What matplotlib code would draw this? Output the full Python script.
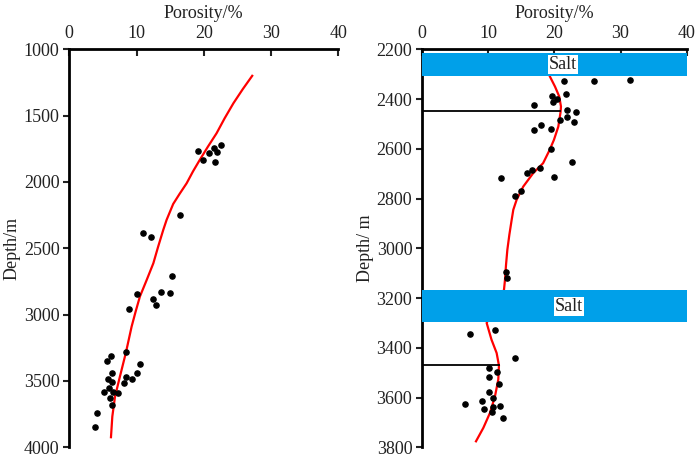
import matplotlib
matplotlib.use("Agg")
import matplotlib.pyplot as plt

plt.rcParams['font.family'] = ['Liberation Serif', 'DejaVu Serif']

# left panel: measured porosity vs depth
left_por = [19.2, 19.9, 20.8, 21.5, 21.9, 22.5, 21.6, 16.5,
            10.9, 12.1, 15.3, 10.0, 12.5, 13.7, 12.9, 15.0, 8.9,
            6.2, 5.6, 8.4, 10.5, 6.3, 5.7, 8.5, 9.4, 10.1, 6.3, 8.2,
            5.9, 5.2, 6.5, 7.2, 6.1, 6.3, 4.1, 3.8]
left_dep = [1766, 1834, 1784, 1741, 1776, 1724, 1847, 2246,
            2382, 2414, 2708, 2841, 2882, 2832, 2927, 2837, 2957,
            3309, 3346, 3284, 3369, 3442, 3482, 3469, 3482, 3437, 3505, 3512,
            3552, 3585, 3585, 3588, 3625, 3678, 3743, 3844]

left_fit_por = [27.2, 25.8, 24.4, 23.1, 21.9, 20.6, 19.4, 18.4, 17.45, 16.4,
                15.45, 14.47, 13.97, 13.2, 12.5, 11.5, 10.5, 9.85, 9.27,
                8.43, 7.53, 6.8, 6.4, 6.2]
left_fit_dep = [1200, 1300, 1407, 1520, 1633, 1735, 1834, 1920, 2010, 2090,
                2166, 2286, 2362, 2490, 2613, 2740, 2864, 2980, 3090,
                3284, 3467, 3618, 3768, 3924]

# right panel
right_por = [21.4, 26.0, 31.5, 21.75, 19.6, 20.35, 19.8, 17.0, 21.9, 23.3,
             21.85, 20.9, 22.9, 18.0, 17.0, 19.5, 19.5, 22.7, 17.9, 16.6,
             15.8, 19.9, 11.9, 14.95, 14.0,
             12.7, 12.8, 7.25, 11.1, 14.0, 10.2, 11.3, 10.2, 11.7, 10.2,
             10.7, 9.1, 6.5, 11.8, 10.8, 9.4, 10.6, 12.2]
right_dep = [2329, 2326, 2325, 2378, 2388, 2401, 2413, 2425, 2444, 2451,
             2472, 2485, 2491, 2504, 2523, 2519, 2602, 2653, 2678, 2685,
             2697, 2714, 2718, 2770, 2789,
             3094, 3120, 3345, 3329, 3441, 3483, 3499, 3519, 3545, 3579,
             3602, 3614, 3626, 3635, 3638, 3647, 3658, 3682]

right_fit_por = [19.34, 20.1, 20.74, 21.0, 20.95, 20.6, 19.94, 19.3, 18.3,
                 16.8, 15.3, 14.3, 13.8, 13.55, 13.2, 12.9, 12.7, 12.54, 12.39,
                 11.2, 9.77, 10.5, 11.28, 11.63, 11.53, 11.03, 10.27, 9.27, 8.16]
right_fit_dep = [2310, 2350, 2390, 2430, 2451, 2511, 2564, 2604, 2658,
                 2698, 2752, 2805, 2845, 2886, 2946, 3006, 3066, 3127, 3167,
                 3230, 3300, 3367, 3421, 3471, 3528, 3595, 3662, 3722, 3776]

salt_top = [2216, 3169]
salt_bot = [2307, 3298]
salt_label_x = [21.3, 22.2]
mark_dep = [2448, 3471]
mark_por = [20.9, 11.6]

fig = plt.figure(figsize=(6.99, 4.58), dpi=100)
ax1 = fig.add_axes([0.0991, 0.0234, 0.3849, 0.869])
ax2 = fig.add_axes([0.6037, 0.0234, 0.3787, 0.869])


def style(ax, ylim, yticks, ylabel):
    ax.set_xlim(0, 40)
    ax.set_ylim(ylim[1], ylim[0])
    ax.set_yticks(yticks)
    ax.set_xticks([0, 10, 20, 30, 40])
    ax.xaxis.tick_top()
    ax.xaxis.set_label_position('top')
    ax.spines['right'].set_visible(False)
    ax.spines['bottom'].set_visible(False)
    ax.spines['left'].set_linewidth(2)
    ax.spines['top'].set_linewidth(2)
    ax.tick_params(axis='x', direction='in', length=5, width=1.5, labelsize=13,
                   pad=5, colors='#222222')
    ax.tick_params(axis='y', direction='out', length=4, width=1.5, labelsize=13,
                   pad=3, colors='#222222')
    ax.set_xlabel('Porosity/%', fontsize=13, labelpad=5, color='#222222')
    ax.set_ylabel(ylabel, fontsize=13, labelpad=2, color='#222222')


style(ax1, (1000, 4000), range(1000, 4001, 500), 'Depth/m')
ax1.plot(left_fit_por, left_fit_dep, color='#ff0000', lw=1.6, zorder=2)
ax1.scatter(left_por, left_dep, s=14, color='black', zorder=3)

style(ax2, (2200, 3800), range(2200, 3801, 200), 'Depth/ m')
ax2.plot(right_fit_por, right_fit_dep, color='#ff0000', lw=1.6, zorder=2)
ax2.scatter(right_por, right_dep, s=14, color='black', zorder=3)
for t, b, lx in zip(salt_top, salt_bot, salt_label_x):
    ax2.axhspan(t, b, xmin=0, xmax=1, facecolor='#00a0e9', edgecolor='none', zorder=4)
    ax2.text(lx, (t + b) / 2, 'Salt', ha='center', va='center', fontsize=13, zorder=5,
             color='#222222', bbox=dict(facecolor='white', edgecolor='none', pad=0.5))
for d, p in zip(mark_dep, mark_por):
    ax2.plot([0, p], [d, d], color='black', lw=1.3, zorder=2)

fig.savefig('out.png', dpi=100)
